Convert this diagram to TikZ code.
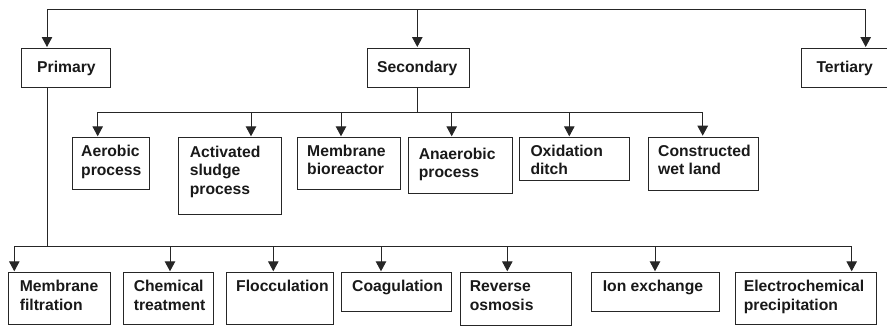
\documentclass[tikz,border=0pt]{standalone}
\usepackage{fontspec}
\setmainfont{Liberation Sans}
\usetikzlibrary{arrows.meta}
\newcommand\tx[1]{\begin{tabular}[t]{@{}l@{}}#1\end{tabular}}
\begin{document}
\begin{tikzpicture}[x=1bp,y=-1bp,
  line width=1bp, draw=black!85,
  box/.style={draw=black!85, line width=1bp, anchor=north west, inner sep=0pt},
  txt/.style={anchor=base west, inner sep=0pt, text=black!90,
    font=\fontsize{15.7bp}{18.5bp}\selectfont\bfseries},
  arr/.style={-{Triangle[width=10.5bp,length=10bp]}, shorten >=1bp}]
\useasboundingbox (0,0) rectangle (887,325);
% top level boxes
\node[box, minimum width=89bp, minimum height=39bp] (prim) at (21,48) {};
\node[box, minimum width=102bp, minimum height=38.5bp] (sec) at (367,48) {};
\node[box, minimum width=85.8bp, minimum height=39bp] (ter) at (800.7,48) {};
\node[txt] (tprim) at (36.7,72.7) {Primary};
\node[txt] (tsec) at (376.7,72.7) {Secondary};
\node[txt] (tter) at (816,72.7) {Tertiary};
% second level boxes
\node[box, minimum width=77bp, minimum height=51.4bp] (aer) at (72.3,137.3) {};
\node[box, minimum width=102.7bp, minimum height=76.4bp] (act) at (178.3,137.3) {};
\node[box, minimum width=103.3bp, minimum height=51.4bp] (mbr) at (296.7,137.3) {};
\node[box, minimum width=103.4bp, minimum height=55.4bp] (ana) at (408.3,137.3) {};
\node[box, minimum width=110bp, minimum height=43bp] (oxi) at (519.3,137.3) {};
\node[box, minimum width=110bp, minimum height=53bp] (con) at (647.7,136.7) {};
\node[txt] (taer) at (80.7,156.5) {\tx{Aerobic\\process}};
\node[txt] (tact) at (189.3,157.3) {\tx{Activated\\sludge\\process}};
\node[txt] (tmbr) at (306.7,156.3) {\tx{Membrane\\bioreactor}};
\node[txt] (tana) at (418.3,159.3) {\tx{Anaerobic\\process}};
\node[txt] (toxi) at (530,156) {\tx{Oxidation\\ditch}};
\node[txt] (tcon) at (657.7,156) {\tx{Constructed\\wet land}};
% third level boxes
\node[box, minimum width=102.3bp, minimum height=52bp] (mf) at (8,272.3) {};
\node[box, minimum width=90bp, minimum height=52bp] (ct) at (123.3,272.3) {};
\node[box, minimum width=107bp, minimum height=52bp] (fl) at (225.7,272.3) {};
\node[box, minimum width=110bp, minimum height=38.4bp] (co) at (340.7,272.3) {};
\node[box, minimum width=110.7bp, minimum height=53bp] (ro) at (460,272.3) {};
\node[box, minimum width=127.7bp, minimum height=38.4bp] (ie) at (591,272.3) {};
\node[box, minimum width=140.7bp, minimum height=52bp] (ec) at (735.3,272.3) {};
\node[txt] (tmf) at (19.3,291.7) {\tx{Membrane\\filtration}};
\node[txt] (tct) at (133.3,291.7) {\tx{Chemical\\treatment}};
\node[txt] (tfl) at (235.7,291.7) {Flocculation};
\node[txt] (tco) at (351.7,291.7) {Coagulation};
\node[txt] (tro) at (469.3,291.7) {\tx{Reverse\\osmosis}};
\node[txt] (tie) at (602.3,291.7) {Ion exchange};
\node[txt] (tec) at (743.3,291.7) {\tx{Electrochemical\\precipitation}};
% top bar
\coordinate (tl) at (47,9);
\coordinate (tm) at (417.3,9);
\coordinate (tr) at (865.7,9);
\draw (tl) -- (tr);
\draw[arr] (tl) -- (tl |- prim.north);
\draw[arr] (tm) -- (tm |- sec.north);
\draw[arr] (tr) -- (tr |- ter.north);
% secondary bar
\coordinate (s0) at (417.3,112.3);
\coordinate (s1) at (97.7,112.3);
\coordinate (s2) at (251,112.3);
\coordinate (s3) at (341,112.3);
\coordinate (s4) at (451.7,112.3);
\coordinate (s5) at (569.3,112.3);
\coordinate (s6) at (702.7,112.3);
\draw (s0 |- sec.south) -- (s0);
\draw (s1) -- (s6);
\draw[arr] (s1) -- (s1 |- aer.north);
\draw[arr] (s2) -- (s2 |- act.north);
\draw[arr] (s3) -- (s3 |- mbr.north);
\draw[arr] (s4) -- (s4 |- ana.north);
\draw[arr] (s5) -- (s5 |- oxi.north);
\draw[arr] (s6) -- (s6 |- con.north);
% primary bar
\coordinate (p0) at (47,246.7);
\coordinate (b1) at (14.3,246.7);
\coordinate (b2) at (170,246.7);
\coordinate (b3) at (273.3,246.7);
\coordinate (b4) at (381,246.7);
\coordinate (b5) at (507.3,246.7);
\coordinate (b6) at (655,246.7);
\coordinate (b7) at (851.7,246.7);
\draw (p0 |- prim.south) -- (p0);
\draw (b1) -- (b7);
\draw[arr] (b1) -- (b1 |- mf.north);
\draw[arr] (b2) -- (b2 |- ct.north);
\draw[arr] (b3) -- (b3 |- fl.north);
\draw[arr] (b4) -- (b4 |- co.north);
\draw[arr] (b5) -- (b5 |- ro.north);
\draw[arr] (b6) -- (b6 |- ie.north);
\draw[arr] (b7) -- (b7 |- ec.north);
\end{tikzpicture}
\end{document}
